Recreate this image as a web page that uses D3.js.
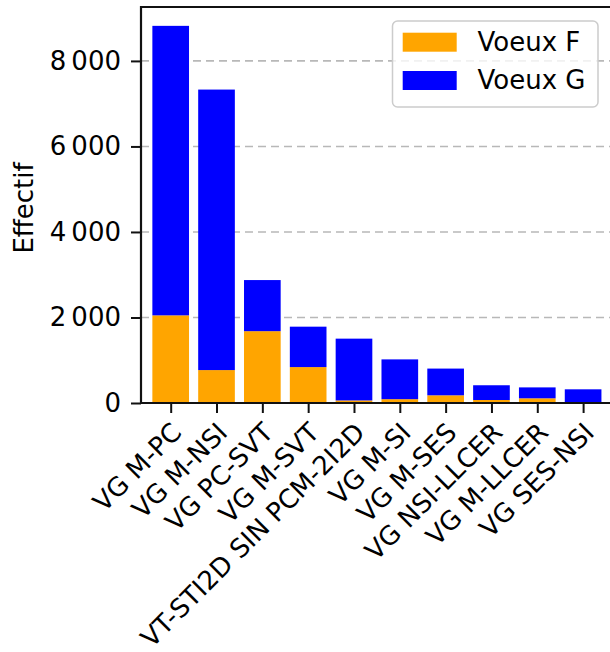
<!DOCTYPE html>
<html>
<head>
<meta charset="utf-8">
<script src="https://cdn.jsdelivr.net/npm/d3@7"></script>
<style>
  html, body { margin: 0; padding: 0; background: #fff; }
  svg { display: block; }
  text { font-family: "DejaVu Sans", sans-serif; fill: #000; }
</style>
</head>
<body>
<svg id="chart" width="610" height="652"></svg>
<script>
const categories = ["VG M-PC", "VG M-NSI", "VG PC-SVT", "VG M-SVT", "VT-STI2D SIN PCM-2I2D",
                    "VG M-SI", "VG M-SES", "VG NSI-LLCER", "VG M-LLCER", "VG SES-NSI"];
const voeuxF = [2050, 770, 1680, 840, 60, 90, 180, 70, 110, 10];
const voeuxG = [6770, 6560, 1195, 945, 1445, 930, 625, 345, 255, 310];
const yTicks = [0, 2000, 4000, 6000, 8000];
const seriesNames = ["Voeux F", "Voeux G"];
const seriesColors = ["#FFA500", "#0000FF"];

const svg = d3.select("#chart");
const plot = { left: 141, right: 612.8, top: 7, bottom: 403 };
const fontSize = 26;

const x = d3.scaleLinear().domain([-0.648, categories.length - 1 + 0.648]).range([plot.left, plot.right]);
const totalsMax = d3.max(voeuxF.map((f, i) => f + voeuxG[i]));
const y = d3.scaleLinear().domain([0, totalsMax * 1.05]).range([plot.bottom, plot.top]);
const barW = x(0.8) - x(0);

const loc = d3.formatLocale({ decimal: ",", thousands: "\u202f", grouping: [3], currency: ["", " €"] });
const fmt = loc.format(",d");

// gridlines
svg.append("g").selectAll("line").data(yTicks.filter(d => d > 0)).join("line")
  .attr("x1", plot.left).attr("x2", plot.right)
  .attr("y1", d => y(d)).attr("y2", d => y(d))
  .attr("stroke", "#b8b8b8").attr("stroke-width", 1.6).attr("stroke-dasharray", "8,5");

// bars
const stacked = categories.map((c, i) => ({ i, f: voeuxF[i], g: voeuxG[i] }));
const gBars = svg.append("g");
gBars.selectAll("rect.f").data(stacked).join("rect").attr("class", "f")
  .attr("x", d => x(d.i) - barW / 2).attr("width", barW)
  .attr("y", d => y(d.f)).attr("height", d => y(0) - y(d.f))
  .attr("fill", seriesColors[0]);
gBars.selectAll("rect.g").data(stacked).join("rect").attr("class", "g")
  .attr("x", d => x(d.i) - barW / 2).attr("width", barW)
  .attr("y", d => y(d.f + d.g)).attr("height", d => y(d.f) - y(d.f + d.g))
  .attr("fill", seriesColors[1]);

// y axis
const yAxis = d3.axisLeft(y).tickValues(yTicks).tickFormat(fmt).tickSize(10).tickPadding(10);
const gy = svg.append("g").attr("transform", `translate(${plot.left},0)`).call(yAxis);
gy.select(".domain").remove();
gy.selectAll(".tick line").attr("stroke", "#111").attr("stroke-width", 2);
gy.selectAll(".tick text").attr("font-size", fontSize).attr("font-family", "DejaVu Sans").attr("fill", "#000");

// x axis
const xAxis = d3.axisBottom(x).tickValues(d3.range(categories.length)).tickFormat(i => categories[i]).tickSize(10);
const gx = svg.append("g").attr("transform", `translate(0,${plot.bottom})`).call(xAxis);
gx.select(".domain").remove();
gx.selectAll(".tick line").attr("stroke", "#111").attr("stroke-width", 2);
gx.selectAll(".tick text")
  .attr("font-size", fontSize).attr("font-family", "DejaVu Sans").attr("fill", "#000")
  .attr("text-anchor", "end")
  .attr("y", 0).attr("dy", 0)
  .attr("transform", "translate(12,31) rotate(-45)");

// spines
const spine = svg.append("g").attr("stroke", "#111").attr("stroke-width", 2.2).attr("fill", "none");
spine.append("line").attr("x1", plot.left).attr("x2", plot.left).attr("y1", plot.top - 1.1).attr("y2", plot.bottom + 1.1);
spine.append("line").attr("x1", plot.left).attr("x2", plot.right).attr("y1", plot.top).attr("y2", plot.top);
spine.append("line").attr("x1", plot.left).attr("x2", plot.right).attr("y1", plot.bottom).attr("y2", plot.bottom);

// y label
svg.append("text").attr("transform", "translate(33,208) rotate(-90)")
  .attr("text-anchor", "middle").attr("font-size", fontSize).text("Effectif");

// legend
const lg = svg.append("g");
lg.append("rect").attr("x", 392.5).attr("y", 21).attr("width", 205.5).attr("height", 86).attr("rx", 5)
  .attr("fill", "#fff").attr("fill-opacity", 0.8).attr("stroke", "#cccccc").attr("stroke-width", 1.5);
seriesNames.forEach((name, k) => {
  const yy = 32.7 + k * 38.3;
  lg.append("rect").attr("x", 402.7).attr("y", yy).attr("width", 54).attr("height", 19).attr("fill", seriesColors[k]);
  lg.append("text").attr("x", 477.5).attr("y", yy + 18.3).attr("font-size", fontSize).text(name);
});
</script>
</body>
</html>
